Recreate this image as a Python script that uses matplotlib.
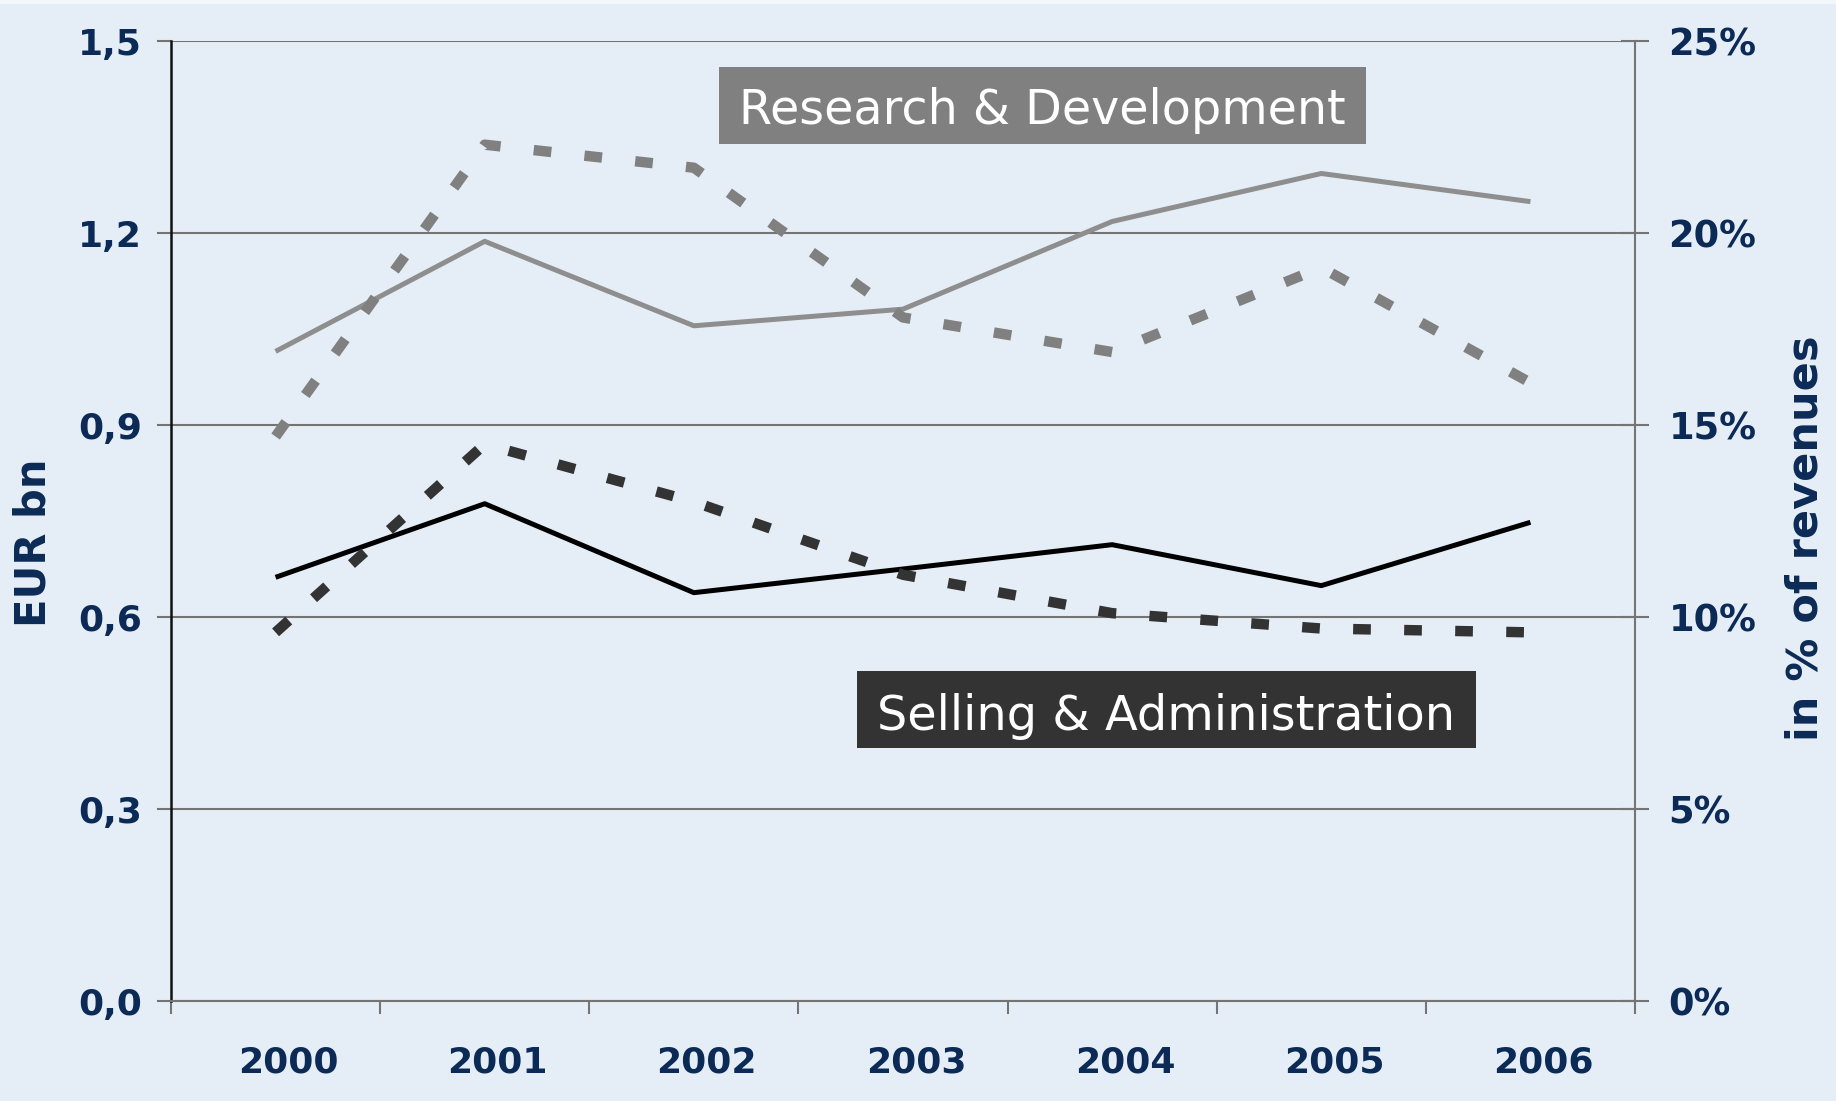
import numpy as np
import matplotlib.pyplot as plt
import matplotlib.transforms as mtransforms
from matplotlib.patches import Rectangle

years = ['2000', '2001', '2002', '2003', '2004', '2005', '2006']
# EUR bn (left axis)
rd_eur = [1.015, 1.187, 1.055, 1.081, 1.218, 1.293, 1.249]
sa_eur = [0.662, 0.777, 0.638, 0.675, 0.713, 0.649, 0.748]
# % of revenues (right axis)
rd_pct = [14.7, 22.3, 21.7, 17.8, 16.9, 19.1, 16.1]
sa_pct = [9.6, 14.5, 13.0, 11.1, 10.1, 9.7, 9.6]

left_ticks = [0.0, 0.3, 0.6, 0.9, 1.2, 1.5]
right_ticks = [0, 5, 10, 15, 20, 25]

bg = '#e5eef6'
navy = '#0b2a55'
grey = '#747474'

fig = plt.figure(figsize=(18.36, 11.01), dpi=100)
fig.patch.set_facecolor(bg)
ax = fig.add_axes([171/1836, 1 - 1001/1101, 1464/1836, 960/1101])
ax.set_facecolor(bg)
ax2 = ax.twinx()

x = np.arange(len(years))

ax.plot(x, rd_eur, color='#8e8e8e', lw=3.6, solid_capstyle='butt', zorder=3)
ax.plot(x, sa_eur, color='#000000', lw=3.6, solid_capstyle='butt', zorder=3)
ax2.plot(x, rd_pct, color='#808080', lw=7.5, linestyle=(0, (1.7, 3.2)),
         dash_capstyle='butt', zorder=3)
ax2.plot(x, sa_pct, color='#333333', lw=7.5, linestyle=(0, (1.7, 3.2)),
         dash_capstyle='butt', zorder=3)

ax.set_xlim(-0.5, len(years) - 0.5)
ax.set_ylim(0, 1.5)
ax2.set_ylim(0, 25)

ax.set_xticks(x)
ax.set_xticklabels(years)
ax.set_xticks(np.arange(-0.5, len(years)), minor=True)
ax.set_yticks(left_ticks)
ax.set_yticklabels([('%.1f' % v).replace('.', ',') for v in left_ticks])
ax2.set_yticks(right_ticks)
ax2.set_yticklabels(['%d%%' % v for v in right_ticks])

ax.yaxis.grid(True, color=grey, lw=1.5)
ax.set_axisbelow(True)

ax.tick_params(axis='x', which='major', length=0, pad=32,
               labelsize=26, labelcolor=navy)
ax.tick_params(axis='x', which='minor', length=9, width=1.5, color=grey,
               direction='out')
ax.tick_params(axis='y', length=10, width=1.5, color=grey, pad=11,
               labelsize=26, labelcolor=navy)
ax2.tick_params(axis='y', length=20, width=1.5, color=grey, direction='inout',
                pad=14, labelsize=26.5, labelcolor=navy)

# year labels sit a little right of the category centre in the original
shift = mtransforms.ScaledTranslation(13/100, 0, fig.dpi_scale_trans)
for lab in ax.get_xticklabels():
    lab.set_transform(lab.get_transform() + shift)
for lab in ax.get_xticklabels() + ax.get_yticklabels() + ax2.get_yticklabels():
    lab.set_fontweight('bold')

for s in ['top', 'right']:
    ax.spines[s].set_visible(False)
ax.spines['left'].set_color('#111111')
ax.spines['left'].set_linewidth(1.8)
ax.spines['bottom'].set_color(grey)
ax.spines['bottom'].set_linewidth(1.5)
for s in ['top', 'left', 'bottom']:
    ax2.spines[s].set_visible(False)
ax2.spines['right'].set_color(grey)
ax2.spines['right'].set_linewidth(1.5)

fig.text(34/1836, 1 - 542.5/1101, 'EUR bn', rotation=90, ha='center', va='center',
         fontsize=30, fontweight='bold', color=navy)
fig.text(1806/1836, 1 - 538.5/1101, 'in % of revenues', rotation=90, ha='center',
         va='center', fontsize=31, fontweight='bold', color=navy)

# label boxes
fig.patches.append(Rectangle((719/1836, 1 - 144/1101), 647/1836, 77/1101,
                             transform=fig.transFigure, facecolor='#808080',
                             edgecolor='none', zorder=5))
fig.text(1042.5/1836, 1 - 124/1101, 'Research & Development', ha='center',
         va='baseline', fontsize=34.3, color='white', zorder=6)
fig.patches.append(Rectangle((857/1836, 1 - 748/1101), 619/1836, 77/1101,
                             transform=fig.transFigure, facecolor='#333333',
                             edgecolor='none', zorder=5))
fig.text(1166.5/1836, 1 - 730/1101, 'Selling & Administration', ha='center',
         va='baseline', fontsize=34.5, color='white', zorder=6)

fig.patches.append(Rectangle((0, 1 - 4/1101), 1, 4/1101, transform=fig.transFigure,
                             facecolor='#f3f6fa', edgecolor='none'))

fig.savefig('out.png', dpi=100, facecolor=bg)
